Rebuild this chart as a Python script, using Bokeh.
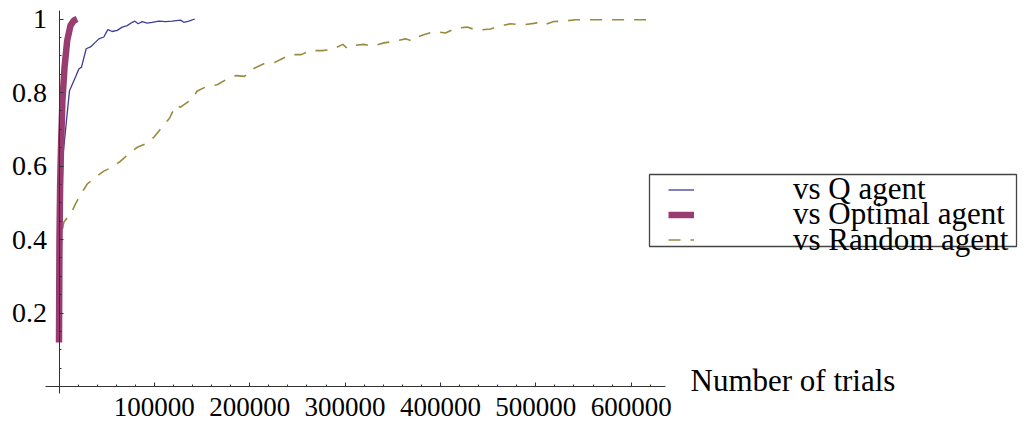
from bokeh.plotting import figure
from bokeh.models import (Range1d, LinearAxis, FixedTicker, BasicTickFormatter,
                          Label, Legend, LegendItem, BoxAnnotation)
from bokeh.embed import file_html
from bokeh.resources import INLINE

# ---------------- data ----------------
q_x = [0, 4000, 11000, 17300, 20800, 23600, 28500, 33000, 38300, 41800, 47000,
       51200, 55800, 61000, 66300, 71500, 76800, 79500, 83000, 87200, 92500,
       97700, 104700, 111700, 118700, 127400, 130900, 136100, 142400]
q_y = [0.15, 0.624, 0.805, 0.842, 0.864, 0.869, 0.919, 0.924, 0.937, 0.946, 0.951,
       0.971, 0.966, 0.969, 0.978, 0.982, 0.991, 0.994, 0.987, 0.993, 0.989,
       0.991, 0.994, 0.993, 0.994, 0.997, 0.991, 0.994, 1.0]

opt_x = [0, 500, 1200, 2200, 3600, 5800, 8600, 12000, 15500, 19000]
opt_y = [0.12, 0.40, 0.55, 0.66, 0.778, 0.869, 0.941, 0.982, 0.996, 1.0]

rnd_x = [0, 1500, 3000, 5000, 12800, 17300, 24300, 29600, 38300, 47000, 55800,
         64500, 73200, 82000, 92500, 100100, 108200, 115900, 122200, 127400,
         139700, 144900, 155400, 165900, 176400, 185800, 194500, 203200, 214800,
         224600, 234000, 242700, 254000, 263000, 276000, 286500, 297600, 302200,
         309100, 319600, 328400, 340600, 351100, 363300, 370400, 373800, 382500,
         393000, 405300, 415800, 428000, 438500, 452500, 461200, 473400, 485700,
         497900, 503100, 508400, 518800, 529300, 541600, 616800, 623100]
rnd_y = [0.13, 0.30, 0.42, 0.447, 0.472, 0.497, 0.529, 0.551, 0.570, 0.586, 0.597,
         0.613, 0.633, 0.651, 0.662, 0.680, 0.706, 0.730, 0.765, 0.760,
         0.783, 0.804, 0.817, 0.821, 0.837, 0.846, 0.844, 0.864, 0.878,
         0.880, 0.892, 0.903, 0.903, 0.914, 0.914, 0.917, 0.931, 0.920,
         0.928, 0.931, 0.926, 0.935, 0.939, 0.946, 0.940, 0.949, 0.957,
         0.966, 0.962, 0.975, 0.978, 0.969, 0.973, 0.980, 0.987, 0.984,
         0.988, 0.991, 0.984, 0.993, 0.994, 0.998, 0.998, 1.0]

series_labels = ["vs Q agent", "vs Optimal agent", "vs Random agent"]
x_tick_values = [100000, 200000, 300000, 400000, 500000, 600000]
y_tick_values = [0.2, 0.4, 0.6, 0.8, 1.0]
x_axis_title = "Number of trials"

# ---------------- styling ----------------
BLUE = "#3d3d99"
MAGENTA = "#993d71"
OLIVE = "#998b3d"
AXIS = "#333333"
FONT = "Liberation Serif"

W, H = 1024, 423
px_per_x = 95.37 / 100000.0   # pixels per trial
px_per_y = 367.5              # pixels per unit
x0_px, y0_px = 58.5, 386.0    # canvas position of the origin


def dx(sx):
    return (sx - x0_px) / px_per_x


def dy(sy):
    return (y0_px - sy) / px_per_y


x_range = Range1d(dx(0), dx(W))
y_range = Range1d(dy(H), dy(0))

p = figure(width=W, height=H, x_range=x_range, y_range=y_range,
           x_axis_type=None, y_axis_type=None, output_backend="svg",
           toolbar_location=None, min_border=0)
p.outline_line_color = None
p.background_fill_color = "white"
p.border_fill_color = "white"

xminor = list(range(20000, 640000, 20000))
yminor = [round(0.05 * i, 2) for i in range(1, 21)]

xaxis = LinearAxis(fixed_location=0, bounds=(dx(45), dx(665)),
                   ticker=FixedTicker(ticks=x_tick_values, minor_ticks=xminor),
                   formatter=BasicTickFormatter(use_scientific=False))
yaxis = LinearAxis(fixed_location=0, bounds=(dy(393), dy(10)),
                   ticker=FixedTicker(ticks=y_tick_values, minor_ticks=yminor))
yaxis.major_label_overrides = {1: "1"}

for ax in (xaxis, yaxis):
    ax.axis_line_color = AXIS
    ax.axis_line_width = 1
    ax.major_tick_line_color = AXIS
    ax.minor_tick_line_color = AXIS
    ax.major_tick_in = 4
    ax.major_tick_out = 0
    ax.minor_tick_in = 2
    ax.minor_tick_out = 0
    ax.major_label_text_font = FONT
    ax.major_label_text_color = "black"
xaxis.major_label_text_font_size = "27px"
yaxis.major_label_text_font_size = "28px"
xaxis.major_label_standoff = 11
yaxis.major_label_standoff = 12

p.add_layout(xaxis, "below")
p.add_layout(yaxis, "left")

r_rnd = p.line(rnd_x, rnd_y, line_color=OLIVE, line_width=1.6, line_dash="12 10")
r_q = p.line(q_x, q_y, line_color=BLUE, line_width=1.3)
r_opt = p.line(opt_x, opt_y, line_color=MAGENTA, line_width=6.5)

p.add_layout(Label(x=dx(690), y=dy(380), text=x_axis_title, text_font=FONT,
                   text_font_size="31px", text_color="black",
                   text_baseline="alphabetic", text_align="left"))

# legend frame
p.add_layout(BoxAnnotation(left=dx(649), right=dx(1016), top=dy(174), bottom=dy(246),
                           fill_color="white", fill_alpha=1.0,
                           line_color="#444444", line_width=1.3, line_alpha=1.0))

# one legend row per series so that rows can sit as tightly as in the reference
row_centers = [189.5, 214.5, 240.0]
ROW_H = 35
for lab, rend, cy in zip(series_labels, [r_q, r_opt, r_rnd], row_centers):
    lg = Legend(items=[LegendItem(label=lab, renderers=[rend])],
                location=(668, H - (cy + ROW_H / 2)), orientation="vertical",
                padding=0, spacing=0, glyph_width=26, glyph_height=ROW_H,
                label_height=ROW_H, label_standoff=99, label_text_font=FONT,
                label_text_font_size="31px", label_text_color="black",
                border_line_color=None, background_fill_alpha=0.0, margin=0)
    p.add_layout(lg, "center")

open("out.html", "w").write(file_html(p, INLINE))
